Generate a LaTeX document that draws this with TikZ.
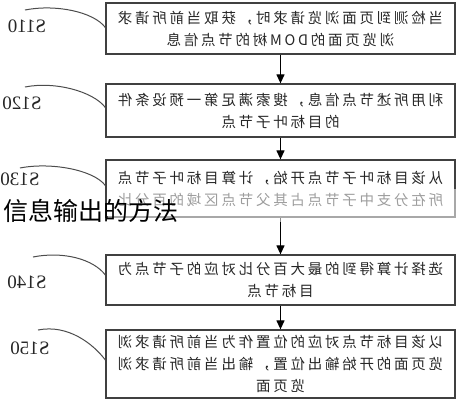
\documentclass[tikz,border=0pt]{standalone}
\usepackage{fontspec}
\newfontfamily\boxfont[LetterSpace=19]{Noto Sans CJK SC}
\newfontfamily\titlefont{Noto Sans CJK SC}
\newfontfamily\stepfont{Liberation Serif}
\usetikzlibrary{arrows.meta}

\begin{document}
\begin{tikzpicture}[x=1pt, y=-1pt, xscale=-1, every node/.style={transform shape},
    stepbox/.style={draw=black!75, line width=1.3pt, minimum width=349pt, inner sep=0pt,
        align=center, text=black!85, font=\boxfont\fontsize{14.5}{22}\selectfont},
    steplabel/.style={text=black!85, font=\stepfont\fontsize{19}{19}\selectfont},
    leader/.style={draw=black!70, line width=1pt},
    flowarrow/.style={draw=black, line width=1.2pt, -{Triangle[length=9pt,width=8pt]}}]

    \useasboundingbox (0,0) rectangle (457,400);

    % the five steps
    \node[stepbox, minimum height=51pt] (b110) at (176.5,28.5)
        {当检测到页面浏览请求时，获取当前所请求\\浏览页面的DOM树的节点信息};
    \node[stepbox, minimum height=53pt] (b120) at (176.5,110.5)
        {利用所述节点信息，搜索满足第一预设条件\\的目标叶子节点};
    \node[stepbox, minimum height=57pt] (b130) at (176.5,188.5)
        {从该目标叶子节点开始，计算目标叶子节点\\所在分支中子节点占其父节点区域的百分比};
    \node[stepbox, minimum height=50pt] (b140) at (176.5,280)
        {选择计算得到的最大百分比对应的子节点为\\目标节点};
    \node[stepbox, minimum height=68pt] (b150) at (176.5,364)
        {以该目标节点对应的位置作为当前所请求浏\\览页面的开始输出位置，输出当前所请求浏\\览页面};

    \draw[flowarrow] (b110) -- (b120);
    \draw[flowarrow] (b120) -- (b130);
    \draw[flowarrow] (b130) -- (b140);
    \draw[flowarrow] (b140) -- (b150);

    % step labels
    \node[steplabel] (l110) at (430,26) {S110};
    \node[steplabel] (l120) at (435,103) {S120};
    \node[steplabel] (l130) at (437,179) {S130};
    \node[steplabel] (l140) at (430,282) {S140};
    \node[steplabel] (l150) at (427,348) {S150};

    \coordinate (t110) at (432,10);
    \coordinate (t120) at (432,87);
    \coordinate (t130) at (437,168);
    \coordinate (t140) at (424,257);
    \coordinate (t150) at (419,330);

    \draw[leader] (t110) .. controls +(-30,-6) and +(12,-16) .. ([yshift=1pt]b110.east);
    \draw[leader] (t120) .. controls +(-30,-6) and +(12,-16) .. ([yshift=3pt]b120.east);
    \draw[leader] (t130) .. controls +(-30,-6) and +(12,-16) .. ([yshift=3pt]b130.east);
    \draw[leader] (t140) .. controls +(-30,-6) and +(12,-16) .. ([yshift=5pt]b140.east);
    \draw[leader] (t150) .. controls +(-30,-6) and +(12,-16) .. ([yshift=4pt]b150.east);

    % faded band and caption on top
    \fill[white, opacity=0.55] (0,189) rectangle (349,222);
    \node[xscale=-1, font=\titlefont\fontsize{25}{25}\selectfont] (title) at (366,211) {信息输出的方法};
\end{tikzpicture}
\end{document}
